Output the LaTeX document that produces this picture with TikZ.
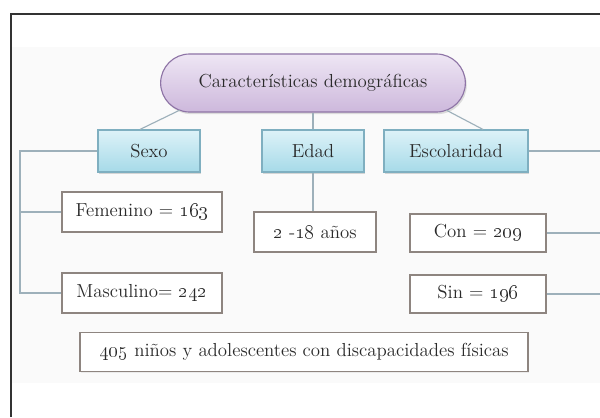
\documentclass[tikz,border=0pt]{standalone}
\usepackage{tikz}
\usetikzlibrary{positioning}
\usetikzlibrary{shapes.misc}
\usetikzlibrary{shadows}
\definecolor{pillfill}{HTML}{CDB8DC}
\definecolor{pilltop}{HTML}{EEE6F4}
\definecolor{pilldraw}{HTML}{8E74A6}
\definecolor{headfill}{HTML}{A6DAE8}
\definecolor{headtop}{HTML}{DDF2F8}
\definecolor{headdraw}{HTML}{7FAFC0}
\definecolor{boxdraw}{HTML}{8E8580}
\definecolor{linkcol}{HTML}{9DB0BA}
\definecolor{textcol}{HTML}{2A2A2A}
\tikzset{
  mypill/.style={
    draw=pilldraw,
    shape=rounded rectangle,
    thick,
    top color=pilltop,
    bottom color=pillfill,
    minimum width=7.85cm,
    minimum height=1.45cm,
    drop shadow={opacity=0.25,shadow xshift=1pt,shadow yshift=-1.5pt},
    font=\fontsize{13.4}{16}\selectfont
  },
  myheader/.style={
    draw=headdraw,
    shape=rectangle,
    thick,
    top color=headtop,
    bottom color=headfill,
    minimum height=1.05cm,
    drop shadow={opacity=0.3,shadow xshift=1pt,shadow yshift=-1.5pt},
    font=\fontsize{13.4}{16}\selectfont
  },
  mybox/.style={
    draw=boxdraw,
    shape=rectangle,
    thick,
    fill=white,
    minimum height=1cm,
    drop shadow={opacity=0.12,shadow xshift=1pt,shadow yshift=-1pt},
    font=\fontsize{13.4}{16}\selectfont
  },
  mylink/.style={
    draw=linkcol,
    thick
  },
}

\begin{document}
\begin{tikzpicture}[x=0.025cm,y=-0.025cm,text=textcol]
  \useasboundingbox (0,0) rectangle (600,417);
  % faint page background
  \fill[black!2] (11,47) rectangle (600,383);
  \draw[line width=1.6pt,black!80] (11,417) -- (11,14) -- (600,14);

  \node[mypill] (pill) at (313,83) {Características demográficas};

  \node[myheader,minimum width=2.55cm] (sexo) at (149,151) {Sexo};
  \node[myheader,minimum width=2.55cm] (edad) at (313,151) {Edad};
  \node[myheader,minimum width=3.6cm] (escol) at (456,151) {Escolaridad};

  \node[mybox,minimum width=4cm] (fem) at (142,212) {Femenino = \oldstylenums{163}};
  \node[mybox,minimum width=4cm] (masc) at (142,293) {Masculino= \oldstylenums{242}};
  \node[mybox,minimum width=3.05cm] (anios) at (315,232) {\oldstylenums{2} -\oldstylenums{18} años};
  \node[mybox,minimum width=3.4cm,minimum height=0.95cm] (con) at (478,233) {Con = \oldstylenums{209}};
  \node[mybox,minimum width=3.4cm,minimum height=0.95cm] (sin) at (478,294) {Sin = \oldstylenums{196}};

  \node[mybox,minimum width=11.2cm,minimum height=0.98cm] (total) at (304,352)
    {\oldstylenums{405} niños y adolescentes con discapacidades físicas};

  \coordinate (sx) at (20,151);
  \coordinate (er) at (600,151);
  \coordinate (cr) at (600,233);
  \coordinate (sr) at (600,294);

  \draw[mylink] ([xshift=-0.25cm,yshift=0.06cm]pill.south west) -- ([xshift=-0.225cm]sexo.north);
  \draw[mylink] (pill.south -| edad.north) -- (edad.north);
  \draw[mylink] ([xshift=0.25cm,yshift=0.06cm]pill.south east) -- ([xshift=0.675cm]escol.north);

  \draw[mylink] (sexo.west) -- (sx) |- (masc.west);
  \draw[mylink] (sx |- fem.west) -- (fem.west);
  \draw[mylink] (edad.south) -- (edad.south |- anios.north);
  \draw[mylink] (escol.east) -- (er);
  \draw[mylink] (con.east) -- (cr);
  \draw[mylink] (sin.east) -- (sr);
\end{tikzpicture}
\end{document}
